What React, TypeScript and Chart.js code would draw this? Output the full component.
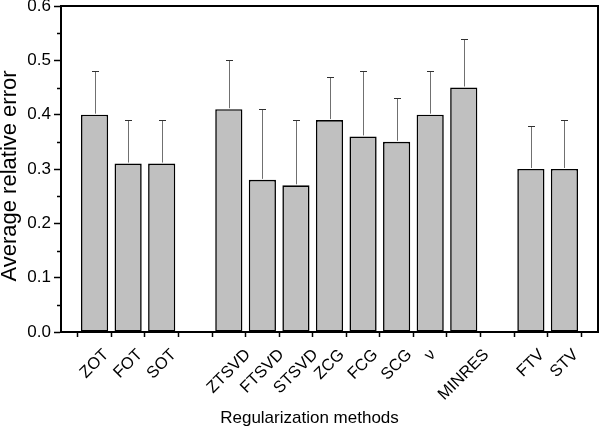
import React, { useEffect, useRef } from 'react';
import { Chart, registerables } from 'chart.js';

Chart.register(...registerables);

const FONT = '"Liberation Sans", Arial, Helvetica, sans-serif';

// Categories (empty strings are spacer slots between method groups)
const categories = ['', 'ZOT', 'FOT', 'SOT', '', 'ZTSVD', 'FTSVD', 'STSVD', 'ZCG', 'FCG', 'SCG', 'ν', 'MINRES', '', 'FTV', 'STV', ''];
// Average relative error per method
const averageError = [null, 0.40, 0.31, 0.31, null, 0.41, 0.28, 0.27, 0.39, 0.36, 0.35, 0.40, 0.45, null, 0.30, 0.30, null];
// Upper error bar length per method
const errorPlus = [null, 0.08, 0.08, 0.08, null, 0.09, 0.13, 0.12, 0.08, 0.12, 0.08, 0.08, 0.09, null, 0.08, 0.09, null];
// Y axis range / ticks
const yMin = 0;
const yMax = 0.6;
const yStep = 0.1;
// Axis titles
const xTitle = 'Regularization methods';
const yTitle = 'Average relative error';

const decorPlugin = {
  id: 'decor',
  afterDatasetsDraw(chart: any) {
    const { ctx, chartArea: a, scales } = chart;
    const y = scales.y;
    const meta = chart.getDatasetMeta(0);
    ctx.save();
    // error bars (upper only)
    meta.data.forEach((bar: any, i: number) => {
      const v = averageError[i];
      const e = errorPlus[i];
      if (v == null || e == null) return;
      const px = Math.round(bar.x) + 0.5;
      const base = y.getPixelForValue(v);
      const top = Math.round(y.getPixelForValue(v + e)) + 0.5;
      ctx.lineWidth = 1;
      ctx.strokeStyle = '#707070';
      ctx.beginPath();
      ctx.moveTo(px, base - 1);
      ctx.lineTo(px, top);
      ctx.stroke();
      ctx.strokeStyle = '#303030';
      ctx.beginPath();
      ctx.moveTo(px - 3.5, top);
      ctx.lineTo(px + 3.5, top);
      ctx.stroke();
    });
    // frame
    ctx.strokeStyle = '#000';
    ctx.lineWidth = 2;
    ctx.strokeRect(a.left, a.top, a.right - a.left, a.bottom - a.top);
    // minor y ticks
    ctx.lineWidth = 1.5;
    const nMinor = Math.round((yMax - yMin) / yStep);
    for (let k = 0; k < nMinor; k++) {
      const v = yMin + (k + 0.5) * yStep;
      const py = Math.round(y.getPixelForValue(v)) + 0.5;
      ctx.beginPath();
      ctx.moveTo(a.left - 4, py);
      ctx.lineTo(a.left, py);
      ctx.stroke();
    }
    ctx.restore();
  },
  afterDraw(chart: any) {
    const { ctx, chartArea: a, scales } = chart;
    const x = scales.x;
    ctx.save();
    const fs = 16.5;
    ctx.font = `${fs}px ${FONT}`;
    ctx.fillStyle = '#000';
    ctx.textAlign = 'center';
    ctx.textBaseline = 'middle';
    categories.forEach((label, i) => {
      if (!label) return;
      const px = x.getPixelForTick(i);
      const L = ctx.measureText(label).width;
      const ext = (L + fs * 0.72) / Math.SQRT2;
      const cy = a.bottom + 16 + ext / 2;
      ctx.save();
      ctx.translate(px, cy);
      ctx.rotate(-Math.PI / 4);
      ctx.fillText(label, 0, 0);
      ctx.restore();
    });
    // x title
    ctx.font = `17px ${FONT}`;
    ctx.textBaseline = 'alphabetic';
    ctx.fillText(xTitle, (a.left + a.right) / 2 - 20, chart.height - 5);
    // y title
    ctx.font = `22px ${FONT}`;
    ctx.textBaseline = 'middle';
    ctx.save();
    ctx.translate(10, (a.top + a.bottom) / 2 + 7);
    ctx.rotate(-Math.PI / 2);
    ctx.fillText(yTitle, 0, 0);
    ctx.restore();
    ctx.restore();
  },
};

export default function App() {
  const ref = useRef<HTMLCanvasElement | null>(null);
  useEffect(() => {
    if (!ref.current) return;
    Chart.defaults.font.family = FONT;
    Chart.defaults.color = '#000';
    const chart = new Chart(ref.current, {
      type: 'bar',
      data: {
        labels: categories,
        datasets: [
          {
            data: averageError as any,
            backgroundColor: '#c0c0c0',
            borderColor: '#000',
            borderWidth: 1.6,
            borderSkipped: false,
            barPercentage: 0.81,
            categoryPercentage: 1,
          },
        ],
      },
      options: {
        animation: false,
        responsive: false,
        devicePixelRatio: 1,
        layout: { padding: { top: 6, right: 2, left: 0, bottom: 0 } },
        plugins: { legend: { display: false }, tooltip: { enabled: false } },
        scales: {
          x: {
            type: 'category',
            offset: false,
            grid: {
              display: true,
              drawOnChartArea: false,
              drawTicks: true,
              tickLength: 5,
              tickWidth: 1.5,
              tickColor: '#000',
            },
            border: { display: true, color: '#000', width: 2 },
            ticks: { display: false },
            title: { display: false, text: xTitle },
            afterFit: (s: any) => {
              s.height = 96;
              s.paddingLeft = 0;
              s.paddingRight = 0;
            },
          },
          y: {
            min: yMin,
            max: yMax,
            ticks: {
              stepSize: yStep,
              font: { size: 17, family: FONT },
              color: '#000',
              padding: 3,
              callback: (v: any) => Number(v).toFixed(1),
            },
            grid: {
              display: true,
              drawOnChartArea: false,
              drawTicks: true,
              tickLength: 7,
              tickWidth: 1.5,
              tickColor: '#000',
            },
            border: { display: true, color: '#000', width: 2 },
            title: { display: false, text: yTitle },
            afterFit: (s: any) => {
              s.width = 61;
              s.paddingTop = 0;
              s.paddingBottom = 0;
            },
          },
        },
      },
      plugins: [decorPlugin],
    });
    return () => chart.destroy();
  }, []);
  return (
    <div style={{ position: 'absolute', left: 0, top: 0, width: 600, height: 428 }}>
      <canvas ref={ref} width={600} height={428} />
    </div>
  );
}
